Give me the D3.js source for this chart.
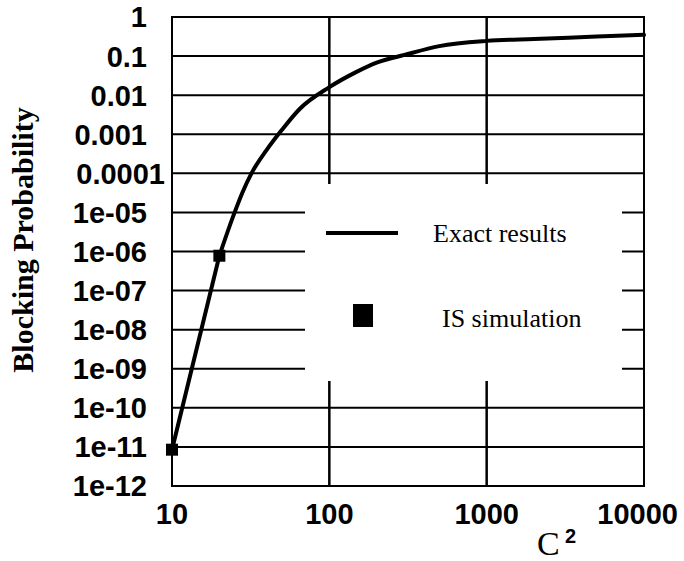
<!DOCTYPE html>
<html>
<head>
<meta charset="utf-8">
<script src="https://cdn.jsdelivr.net/npm/d3@7"></script>
<style>
  body { margin: 0; background: #fff; }
  svg { display: block; }
</style>
</head>
<body>
<svg id="chart" width="684" height="561"></svg>
<script>
// Axis ticks
const xTicks = [10, 100, 1000, 10000];
const xTickLabels = ["10", "100", "1000", "10000"];
const yTicks = [1, 1e-1, 1e-2, 1e-3, 1e-4, 1e-5, 1e-6, 1e-7, 1e-8, 1e-9, 1e-10, 1e-11, 1e-12];
const yTickLabels = ["1", "0.1", "0.01", "0.001", "0.0001", "1e-05", "1e-06", "1e-07",
                     "1e-08", "1e-09", "1e-10", "1e-11", "1e-12"];

// Exact blocking probability versus C^2
const exactC2 = [10, 20, 25, 28, 32, 40, 50, 65, 100, 150, 200, 300, 500, 1000, 2000, 5000, 10000];
const exactProb = [8.5e-12, 7.8e-7, 1e-5, 3.2e-5, 1e-4, 4e-4, 1.3e-3, 4.5e-3, 1.6e-2,
                   4e-2, 6.8e-2, 0.107, 0.18, 0.245, 0.275, 0.315, 0.35];

// Importance-sampling simulation estimates
const simC2 = [10, 20];
const simProb = [8.5e-12, 7.8e-7];

const svg = d3.select("#chart");
const plot = { left: 172, right: 644, top: 17, bottom: 486 };

const x = d3.scaleLog().domain([10, 10000]).range([plot.left, plot.right]);
const y = d3.scaleLog().domain([1e-12, 1]).range([plot.bottom, plot.top]);

const sansBold = "'Liberation Sans', Arial, Helvetica, sans-serif";
const serif = "'Liberation Serif', 'Times New Roman', Times, serif";

// Horizontal grid lines, one per decade
svg.append("g")
  .selectAll("line")
  .data(yTicks)
  .join("line")
  .attr("x1", plot.left).attr("x2", plot.right)
  .attr("y1", d => y(d)).attr("y2", d => y(d))
  .attr("stroke", "#000").attr("stroke-width", 2);

// Vertical grid lines at the inner decades
svg.append("g")
  .selectAll("line")
  .data(xTicks.slice(1, -1))
  .join("line")
  .attr("x1", d => x(d)).attr("x2", d => x(d))
  .attr("y1", plot.top).attr("y2", plot.bottom)
  .attr("stroke", "#000").attr("stroke-width", 2.5);

// Legend panel covers the grid behind it
svg.append("rect")
  .attr("x", 305).attr("y", 184)
  .attr("width", 317).attr("height", 197)
  .attr("fill", "#fff");

// Frame
svg.append("rect")
  .attr("x", plot.left).attr("y", plot.top)
  .attr("width", plot.right - plot.left).attr("height", plot.bottom - plot.top)
  .attr("fill", "none").attr("stroke", "#000").attr("stroke-width", 2);

// Exact results curve: straight first leg, smooth beyond it
const exactData = exactC2.map((c, i) => ({ c, p: exactProb[i] }));
const curveStyle = sel => sel
  .attr("fill", "none")
  .attr("stroke", "#000")
  .attr("stroke-width", 4)
  .attr("stroke-linejoin", "round")
  .attr("stroke-linecap", "round");
svg.append("path")
  .datum(exactData.slice(0, 2))
  .call(curveStyle)
  .attr("d", d3.line().x(d => x(d.c)).y(d => y(d.p)));
svg.append("path")
  .datum(exactData.slice(1))
  .call(curveStyle)
  .attr("d", d3.line().curve(d3.curveMonotoneX).x(d => x(d.c)).y(d => y(d.p)));

// Simulation markers
const simData = simC2.map((c, i) => ({ c, p: simProb[i] }));
const ms = 12;
svg.append("g")
  .selectAll("rect")
  .data(simData)
  .join("rect")
  .attr("x", d => x(d.c) - ms / 2)
  .attr("y", d => y(d.p) - ms / 2)
  .attr("width", ms).attr("height", ms)
  .attr("fill", "#000");

// Y tick labels
svg.append("g")
  .selectAll("text")
  .data(yTicks)
  .join("text")
  .attr("x", (d, i) => yTickLabels[i].length > 5 ? 165 : 147)
  .attr("y", d => y(d))
  .attr("dy", "0.36em")
  .attr("text-anchor", "end")
  .attr("font-family", sansBold)
  .attr("font-weight", "bold")
  .attr("font-size", 29)
  .text((d, i) => yTickLabels[i]);

// X tick labels, kept inside the page on the right
const xLab = svg.append("g")
  .selectAll("text")
  .data(xTicks)
  .join("text")
  .attr("y", 524)
  .attr("text-anchor", "middle")
  .attr("font-family", sansBold)
  .attr("font-weight", "bold")
  .attr("font-size", 29)
  .text((d, i) => xTickLabels[i]);
xLab.attr("x", function (d) {
  const half = this.getComputedTextLength() / 2;
  return Math.min(x(d), 678 - half);
});

// X axis title: C^2
svg.append("text")
  .attr("x", 537).attr("y", 555)
  .attr("font-family", serif)
  .attr("font-size", 34)
  .text("C");
svg.append("text")
  .attr("x", 565).attr("y", 543)
  .attr("font-family", sansBold)
  .attr("font-weight", "bold")
  .attr("font-size", 20)
  .text("2");

// Y axis title
svg.append("text")
  .attr("transform", "translate(33,240) rotate(-90)")
  .attr("text-anchor", "middle")
  .attr("font-family", serif)
  .attr("font-weight", "bold")
  .attr("font-size", 30)
  .text("Blocking Probability");

// Legend
svg.append("line")
  .attr("x1", 326).attr("x2", 398)
  .attr("y1", 233).attr("y2", 233)
  .attr("stroke", "#000").attr("stroke-width", 4);
svg.append("text")
  .attr("x", 433).attr("y", 242)
  .attr("font-family", serif)
  .attr("font-size", 26)
  .text("Exact results");
svg.append("rect")
  .attr("x", 353).attr("y", 304)
  .attr("width", 20).attr("height", 23)
  .attr("fill", "#000");
svg.append("text")
  .attr("x", 442).attr("y", 327)
  .attr("font-family", serif)
  .attr("font-size", 26)
  .text("IS simulation");
</script>
</body>
</html>
